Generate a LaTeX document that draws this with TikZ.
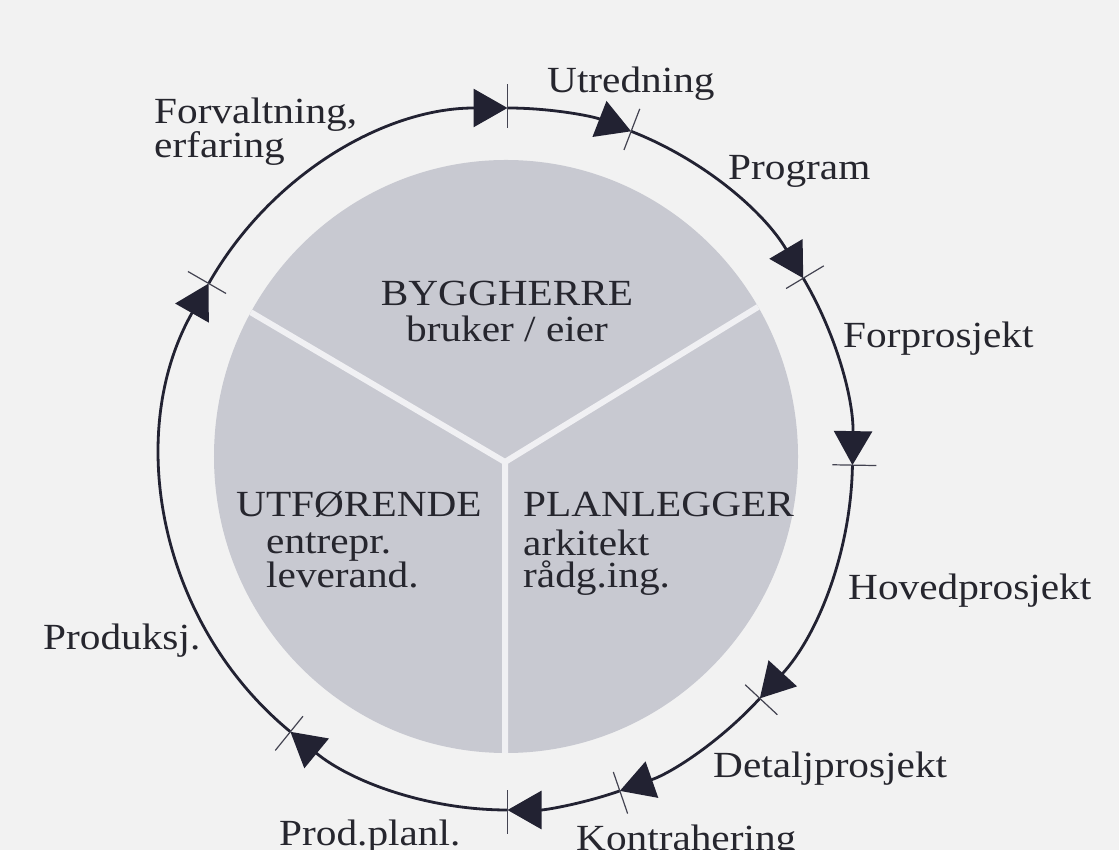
\documentclass[tikz,border=0pt]{standalone}
\usepackage{fontspec}
\setmainfont[FakeStretch=1.12]{Liberation Serif}
\usetikzlibrary{arrows.meta}
\definecolor{paper}{RGB}{242,242,242}
\definecolor{disc}{RGB}{200,201,209}
\definecolor{ink}{RGB}{34,34,50}
\definecolor{txt}{RGB}{38,38,46}
\definecolor{seam}{RGB}{240,240,243}
\begin{document}
\begin{tikzpicture}[x=1bp,y=1bp,
  ring/.style={draw=ink, line width=2.8bp},
  phase/.style={ring, -{Triangle[length=34bp,width=38bp]}},
  tickmark/.style={draw=ink!85, line width=1.2bp},
  lbl/.style={text=txt, inner sep=0pt, anchor=base west, align=left,
              font=\fontsize{37}{35}\selectfont},
  role/.style={text=txt, inner sep=0pt, anchor=base, align=center,
              font=\fontsize{37}{37}\selectfont},
  sub/.style={text=txt, inner sep=0pt, anchor=base west, align=left,
              font=\fontsize{37}{33}\selectfont}]
\fill[paper] (0,0) rectangle (1119,850);
\useasboundingbox (0,0) rectangle (1119,850);

% centres: ring, grey disc, junction of the three sectors
\coordinate (O) at (507.5,391);
\coordinate (D) at (506,393.5);
\coordinate (J) at (505,388);

% grey disc split into three sectors
\fill[disc] (D) ellipse [x radius=292bp, y radius=296.5bp];
\begin{scope}
  \clip (D) ellipse [x radius=292bp, y radius=296.5bp];
  \draw[seam, line width=6bp] (J) -- ++(149.5:400bp) (J) -- ++(31.5:400bp) (J) -- ++(-90:400bp);
\end{scope}

% outer cycle: one arrowed arc per phase, clockwise
\foreach \a/\b in {150/90, 90/69, 69/31, 31/-1, -1/-43, -43/-71, -71/-90, -90/-129, -129/-210}
  \draw[phase] (O) ++(\a:345bp and 351bp) arc[start angle=\a, end angle=\b, x radius=345bp, y radius=351bp];

% phase boundaries
\foreach \a in {90,69,31,-1,-43,-71,-90,-129,150}
  \draw[tickmark] (O) ++(\a:325bp and 331bp) -- ++(\a:44bp);

% phase labels (multi-line nodes sit on the baseline of their last line)
\node[lbl] (forv) at (154,692) {Forvaltning,\\erfaring};
\node[lbl] (utr) at (547,757) {Utredning};
\node[lbl] (prog) at (728,670) {Program};
\node[lbl] (forp) at (843,502) {Forprosjekt};
\node[lbl] (hovp) at (848,250) {Hovedprosjekt};
\node[lbl] (detp) at (713,72) {Detaljprosjekt};
\node[lbl] (kontr) at (576,-1) {Kontrahering};
\node[lbl] (prodpl) at (279,4) {Prod.planl.};
\node[lbl] (prod) at (43,200) {Produksj.};

% roles
\node[role] (bygg) at (507,508) {BYGGHERRE\\bruker / eier};
\node[lbl] (utf) at (236,333) {UTFØRENDE};
\node[sub] (utfsub) at (266,262) {entrepr.\\leverand.};
\node[lbl] (plan) at (523,333) {PLANLEGGER};
\node[sub] (plansub) at (523,262) {arkitekt\\rådg.ing.};
\end{tikzpicture}
\end{document}
